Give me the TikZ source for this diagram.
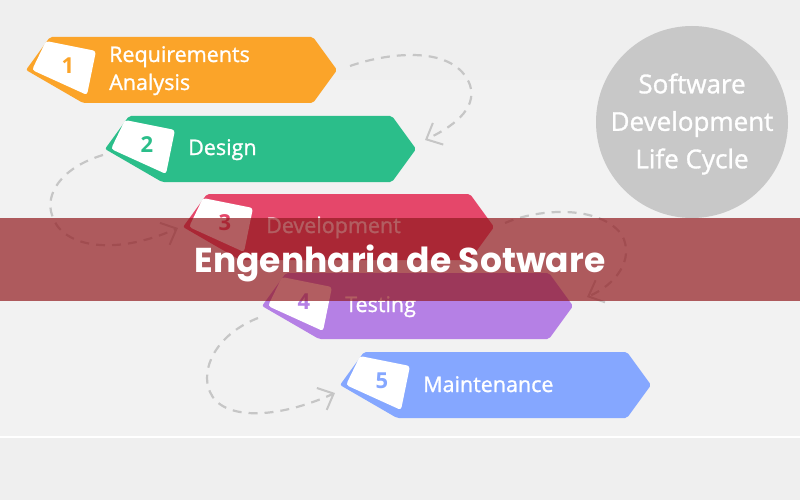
\documentclass[tikz,border=0pt]{standalone}
\usepackage{fontspec}
\setmainfont{Open Sans}
\newfontfamily\labelfont{Open Sans}[FakeBold=1.2]
\newfontfamily\titlefont{Poppins}
\usetikzlibrary{arrows.meta,calc}

\definecolor{bgupper}{HTML}{EFEFEF}
\definecolor{bgmain}{HTML}{F2F2F2}
\definecolor{bglower}{HTML}{EFEFEF}
\definecolor{stageorange}{HTML}{FBA429}
\definecolor{stagegreen}{HTML}{2BBE8A}
\definecolor{stagered}{HTML}{E5476A}
\definecolor{stagepurple}{HTML}{B580E5}
\definecolor{stageblue}{HTML}{85A7FF}
\definecolor{loopgrey}{HTML}{C6C6C6}
\definecolor{circlegrey}{HTML}{C8C8C8}
\definecolor{bannerred}{RGB}{146,26,31}

\tikzset{
  numtext/.style={font=\fontsize{22}{26}\selectfont\bfseries, inner sep=0pt},
  labeltext/.style={font=\labelfont\fontsize{21.5}{28}\selectfont, text=white, inner sep=0pt, align=left},
  flow/.style={draw=loopgrey, line width=2.2pt, dash pattern=on 9pt off 7pt,
    -{Straight Barb[length=13pt,width=24pt,line width=2pt]}},
  pics/stage/.style n args={4}{code={
    \fill[#1, rounded corners=2pt] (0,33) -- (24,0) -- (287,0) -- (311,33)
      -- (287,66) -- (57,66) -- cycle;
    \fill[white, rounded corners=3pt] (20,4) -- (70,14) -- (61,58) -- (6,33) -- cycle;
    \node[numtext, text=#1] (-num) at (42,29) {#2};
    \node[labeltext, anchor=base west] (-label) at (83,#4) {#3};
    \coordinate (-l) at (0,33);
    \coordinate (-r) at (311,33);
  }}
}

\begin{document}
\begin{tikzpicture}[x=1pt,y=-1pt]
  % background
  \useasboundingbox (0,0) rectangle (800,500);
  \fill[bgmain] (0,0) rectangle (800,437);
  \fill[bgupper] (0,0) rectangle (800,80);
  \fill[bglower] (0,437) rectangle (800,500);
  \draw[white, line width=1.5pt] (0,437) -- (800,437);

  % life cycle badge
  \node[circle, fill=circlegrey, minimum size=192pt, inner sep=0pt] (badge) at (692,122) {};
  \node[font=\labelfont\fontsize{26}{37.5}\selectfont, text=white, align=center, inner sep=0pt]
    (badgetext) at (692,124) {Software\\Development\\Life Cycle};

  % stages
  \pic (s1) at (26,37)  {stage={stageorange}{1}{Requirements\\Analysis}{53}};
  \pic (s2) at (105,116) {stage={stagegreen}{2}{Design}{39}};
  \pic (s3) at (183,194) {stage={stagered}{3}{Development}{39}};
  \pic (s4) at (262,273) {stage={stagepurple}{4}{Testing}{39}};
  \pic (s5) at (340,352) {stage={stageblue}{5}{Maintenance}{40}};

  % loops between the stages
  \draw[flow] ($(s1-r)+(13,-4)$) .. controls (390,52) and (455,45) .. (470,85)
    .. controls (478,110) and (450,128) .. ($(s2-r)+(9,-9)$);
  \draw[flow] ($(s2-l)+(-2,6)$) .. controls (60,168) and (45,195) .. (52,215)
    .. controls (60,245) and (110,258) .. ($(s3-l)+(-5,1)$);
  \draw[flow] ($(s3-r)+(11,-4)$) .. controls (540,208) and (600,205) .. (622,235)
    .. controls (635,260) and (615,285) .. ($(s4-r)+(14,-9)$);
  \draw[flow] ($(s4-l)+(-4,12)$) .. controls (215,335) and (200,370) .. (210,392)
    .. controls (222,420) and (275,420) .. ($(s5-l)+(-5,8)$);

  % title banner
  \fill[bannerred, opacity=0.7] (0,218) rectangle (800,301);
  \node[font=\titlefont\bfseries\fontsize{34.5}{40}\selectfont, text=white, anchor=base, inner sep=0pt]
    (title) at (400,272) {Engenharia de Sotware};
\end{tikzpicture}
\end{document}
